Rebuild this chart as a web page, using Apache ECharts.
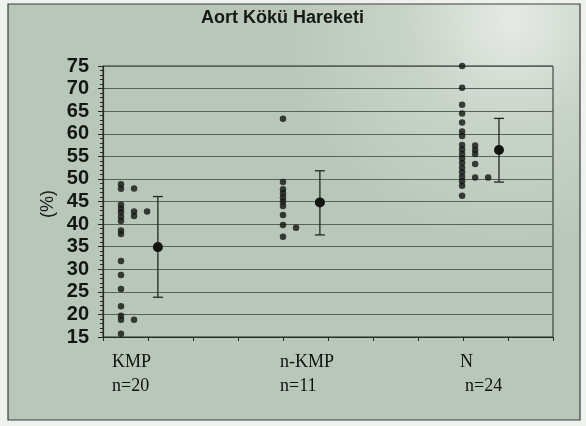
<!DOCTYPE html>
<html>
<head>
<meta charset="utf-8">
<script src="https://cdn.jsdelivr.net/npm/echarts@6/dist/echarts.min.js"></script>
<style>html,body{margin:0;padding:0;background:#eef1ee;}#c{width:586px;height:426px;}</style>
</head>
<body>
<div id="c"></div>
<script>
// ---- data ----
const title = 'Aort Kökü Hareketi';
const yTicks = [15, 20, 25, 30, 35, 40, 45, 50, 55, 60, 65, 70, 75];
const groupNames = ['KMP', 'n-KMP', 'N'];
const groupN = ['n=20', 'n=11', 'n=24'];
// dot-plot columns (values in %), column 1 = main column, further columns = overflow
const kmpCol1 = [48.8, 47.8, 44.3, 43.4, 42.6, 41.6, 40.7, 38.6, 37.8, 31.8, 28.7, 25.6, 21.8, 19.7, 18.8, 15.7];
const kmpCol2 = [47.9, 42.8, 41.8, 18.8];
const kmpCol3 = [42.8];
const nkmpCol1 = [63.3, 49.3, 47.7, 46.8, 45.9, 45.0, 44.0, 42.0, 39.8, 37.2];
const nkmpCol2 = [39.2];
const nCol1 = [75, 70.2, 66.4, 64.5, 62.5, 60.5, 59.5, 57.5, 56.5, 55.5, 54.5, 53.5, 52.5, 51.5, 50.5, 49.5, 48.5, 46.3];
const nCol2 = [57.4, 56.4, 55.5, 53.3, 50.3];
const nCol3 = [50.3];
const means = [34.9, 44.8, 56.4];
const lows = [23.8, 37.6, 49.3];
const highs = [46.1, 51.8, 63.4];

// ---- layout ----
const groupCols = [[kmpCol1, kmpCol2, kmpCol3], [nkmpCol1, nkmpCol2], [nCol1, nCol2, nCol3]];
const groupBaseX = [0.4, 4.0, 7.98];
const colStep = 0.29;
const barX = [1.22, 4.82, 8.8];

const dots = [];
groupCols.forEach((cols, g) => {
  cols.forEach((col, c) => {
    col.forEach(v => dots.push([groupBaseX[g] + c * colStep, v]));
  });
});
const barData = means.map((m, i) => [barX[i], m, lows[i], highs[i]]);

const chart = echarts.init(document.getElementById('c'), null, {renderer: 'canvas'});
const labelFont = '"Liberation Serif", "Times New Roman", serif';
const labelX = [112, 280, 460];
const labelNX = [112, 280, 465];
const graphics = [
  {type: 'rect', z: -10, shape: {x: 8, y: 4, width: 572, height: 416},
   style: {fill: new echarts.graphic.RadialGradient(0.88, 0.04, 0.55, [
     {offset: 0, color: '#e6ebe5'}, {offset: 0.45, color: '#c9d4c9'}, {offset: 1, color: '#b9c7ba'}]),
     stroke: '#3a3f3a', lineWidth: 1.2}},
  {type: 'text', x: 201, y: 9, style: {text: title, font: 'bold 18px "Liberation Sans", Arial, sans-serif', fill: '#151815'}},
  {type: 'text', x: 39, y: 218, rotation: Math.PI / 2, style: {text: '(%)', font: '18px "Liberation Sans", Arial, sans-serif', fill: '#151815'}}
];
groupNames.forEach((name, i) => {
  graphics.push({type: 'text', x: labelX[i], y: 353, style: {text: name, font: '18px ' + labelFont, fill: '#0f110f'}});
  graphics.push({type: 'text', x: labelNX[i], y: 377, style: {text: groupN[i], font: '18px ' + labelFont, fill: '#0f110f'}});
});

chart.setOption({
  backgroundColor: 'transparent',
  animation: false,
  grid: {left: 103, right: 33, top: 66, bottom: 89, show: true, borderColor: '#252a25', borderWidth: 1, backgroundColor: 'transparent'},
  xAxis: {
    type: 'value', min: 0, max: 10, interval: 1,
    axisLine: {show: true, lineStyle: {color: '#252a25', width: 1.2}},
    axisTick: {show: true, length: 4, lineStyle: {color: '#252a25'}},
    axisLabel: {show: false},
    splitLine: {show: false}
  },
  yAxis: {
    type: 'value', min: yTicks[0], max: yTicks[yTicks.length - 1], interval: 5,
    axisLine: {show: true, lineStyle: {color: '#252a25', width: 1.2}},
    axisTick: {show: true, length: 5, lineStyle: {color: '#252a25'}},
    minorTick: {show: true, splitNumber: 5, length: 3, lineStyle: {color: '#252a25'}},
    axisLabel: {fontSize: 20, fontWeight: 'bold', color: '#131613', fontFamily: '"Liberation Sans", Arial, sans-serif', margin: 14},
    splitLine: {show: true, lineStyle: {color: '#56625a', width: 1}}
  },
  graphic: graphics,
  series: [
    {
      type: 'scatter', data: dots, symbol: 'circle', symbolSize: 6.5,
      itemStyle: {color: '#121412'}, z: 3
    },
    {
      type: 'custom', data: barData, z: 4,
      renderItem: function (params, api) {
        const x = api.value(0);
        const pm = api.coord([x, api.value(1)]);
        const pl = api.coord([x, api.value(2)]);
        const ph = api.coord([x, api.value(3)]);
        const hw = 5;
        const st = {stroke: '#222622', lineWidth: 1.3};
        return {type: 'group', children: [
          {type: 'line', shape: {x1: pl[0], y1: pl[1], x2: ph[0], y2: ph[1]}, style: st},
          {type: 'line', shape: {x1: pl[0] - hw, y1: pl[1], x2: pl[0] + hw, y2: pl[1]}, style: st},
          {type: 'line', shape: {x1: ph[0] - hw, y1: ph[1], x2: ph[0] + hw, y2: ph[1]}, style: st},
          {type: 'circle', shape: {cx: pm[0], cy: pm[1], r: 5}, style: {fill: '#121412'}}
        ]};
      }
    }
  ]
});
</script>
</body>
</html>
